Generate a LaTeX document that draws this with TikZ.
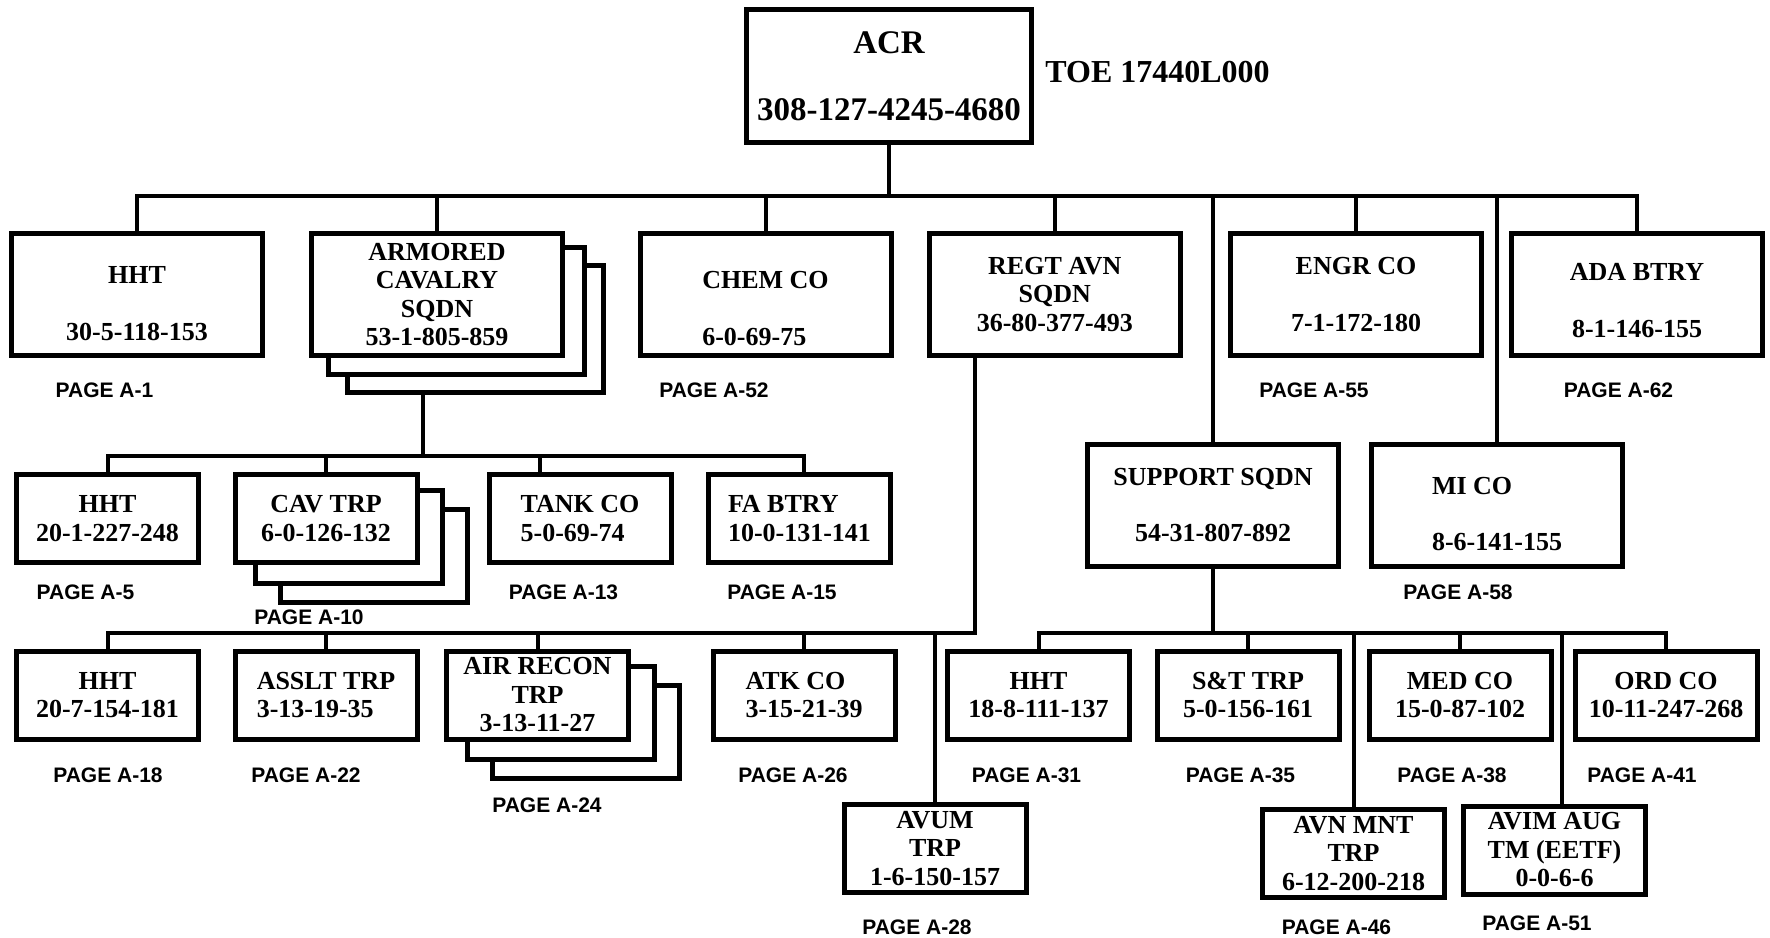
\documentclass[tikz,border=0pt]{standalone}
\usepackage{fontspec}
\setmainfont{Liberation Serif}
\newfontfamily\pagefont{Liberation Sans}
\usetikzlibrary{backgrounds}

\begin{document}
\begin{tikzpicture}[x=0.5pt,y=-0.5pt,
  unit/.style={draw,line width=2.5pt,fill=white,inner sep=0pt,align=center,
    font=\bfseries\fontsize{13}{14.25}\selectfont},
  bigunit/.style={unit,minimum width=125.5pt,minimum height=61pt},
  smallunit/.style={unit,minimum width=91pt,minimum height=44pt},
  wire/.style={line width=2pt},
  pg/.style={font=\pagefont\bfseries\fontsize{10.5}{12}\selectfont,inner sep=0pt}]
  \useasboundingbox (0,0) rectangle (1770,937);

  % regiment
  \node[unit,font=\bfseries\fontsize{16.5}{18}\selectfont,
    minimum width=142.5pt,minimum height=66.5pt] (acr) at (889,76)
    {ACR\\[15.5pt]308-127-4245-4680};
  \node[font=\bfseries\fontsize{16}{18}\selectfont,inner sep=0pt] (toe)
    at (1157.5,72) {TOE 17440L000};

  % first row
  \node[bigunit] (hht) at (137,294.5) {\rule{0pt}{17.6pt}HHT\\[14pt]30-5-118-153};
  \node[bigunit] (acs) at (437,294.5) {ARMORED\\CAVALRY\\SQDN\\53-1-805-859};
  \node[bigunit,align=left] (chem) at (765.5,294.5) {\rule{0pt}{22.6pt}CHEM CO\\[14pt]6-0-69-75};
  \node[bigunit] (regt) at (1054.75,294.5) {REGT AVN\\SQDN\\36-80-377-493};
  \node[bigunit] (engr) at (1356,294.5) {ENGR CO\\[14pt]7-1-172-180};
  \node[bigunit] (ada) at (1637,294.5) {\rule{0pt}{14.6pt}ADA BTRY\\[14pt]8-1-146-155};
  \node[bigunit] (sup) at (1213,505) {SUPPORT SQDN\\[14pt]54-31-807-892};
  \node[bigunit,align=left] (mi) at (1497,505) {\rule{0pt}{17.6pt}MI CO\\[14pt]8-6-141-155};

  % cavalry squadron
  \node[smallunit] (hhtb) at (107.5,518.5) {HHT\\20-1-227-248};
  \node[smallunit] (cav) at (326,518.5) {CAV TRP\\6-0-126-132};
  \node[smallunit,align=left] (tank) at (580,518.5) {TANK CO\\5-0-69-74};
  \node[smallunit,align=left] (fa) at (799.5,518.5) {FA BTRY\\10-0-131-141};

  % aviation squadron
  \node[smallunit] (hhtc) at (107.5,695) {HHT\\20-7-154-181};
  \node[smallunit,align=left] (asslt) at (326,695) {ASSLT TRP\\3-13-19-35};
  \node[smallunit] (air) at (537.5,695) {AIR RECON\\TRP\\3-13-11-27};
  \node[smallunit,align=left] (atk) at (804,695) {ATK CO\\3-15-21-39};
  \node[smallunit] (avum) at (935,848.5) {AVUM\\TRP\\1-6-150-157};

  % support squadron
  \node[smallunit] (hhtd) at (1038.5,695) {HHT\\18-8-111-137};
  \node[smallunit] (st) at (1248,695) {S\&T TRP\\5-0-156-161};
  \node[smallunit] (med) at (1460,695) {MED CO\\15-0-87-102};
  \node[smallunit] (ord) at (1666,695) {ORD CO\\10-11-247-268};
  \node[smallunit] (avn) at (1353.5,853.5) {AVN MNT\\TRP\\6-12-200-218};
  \node[smallunit] (avim) at (1554.5,850) {AVIM AUG\\TM (EETF)\\0-0-6-6};

  % stacked units
  \begin{scope}[on background layer]
    \foreach \n/\dx/\dy in {acs/38/34,acs/19/16,cav/48/37,cav/23/18,air/48/37,air/23/18}
      \draw[line width=2.5pt,fill=white] ([shift={(\dx,\dy)}]\n.north west)
        rectangle ([shift={(\dx,\dy)}]\n.south east);
  \end{scope}

  % connectors
  \coordinate (bus) at (889,196);
  \draw[wire] (acr.south) -- (bus);
  \draw[wire] (hht.north) |- (bus) -| (ada.north);
  \foreach \n in {acs,chem,regt,engr,sup,mi}
    \draw[wire] (\n.north) -- (\n.north |- bus);

  \coordinate (acsfoot) at ([shift={(-14,34)}]acs.south);
  \coordinate (cbus) at (423,456);
  \coordinate (tanktop) at ([xshift=-20pt]tank.north);
  \coordinate (fatop) at ([xshift=2pt]fa.north);
  \draw[wire] (acsfoot) -- (cbus);
  \draw[wire] (hhtb.north) |- (cbus) -| (fatop);
  \draw[wire] (cav.north) -- (cav.north |- cbus);
  \draw[wire] (tanktop) -- (tanktop |- cbus);

  \coordinate (abus) at (975,633);
  \draw[wire] (regt.south -| abus) -- (abus) -| (hhtc.north);
  \foreach \n in {asslt,air,atk,avum}
    \draw[wire] (\n.north) -- (\n.north |- abus);

  \coordinate (sbus) at (1213,633);
  \coordinate (avimtop) at ([xshift=3.5pt]avim.north);
  \draw[wire] (sup.south) -- (sbus);
  \draw[wire] (hhtd.north) |- (sbus) -| (ord.north);
  \foreach \n in {st,med,avn}
    \draw[wire] (\n.north) -- (\n.north |- sbus);
  \draw[wire] (avimtop) -- (avimtop |- sbus);

  % page references
  \foreach \x/\y/\p in {104.5/390/1,714/390/52,1314/390/55,1618.5/390/62,
      85.5/592/5,309/617/10,563.5/592/13,782/592/15,1458/592/58,
      108/775/18,306/775/22,547/805/24,793/775/26,917/927/28,
      1026.5/775/31,1240.5/775/35,1452/775/38,1642/775/41,
      1336.5/927/46,1537/923/51}
    \node[pg] (pg\p) at (\x,\y) {PAGE A-\p};
\end{tikzpicture}
\end{document}
